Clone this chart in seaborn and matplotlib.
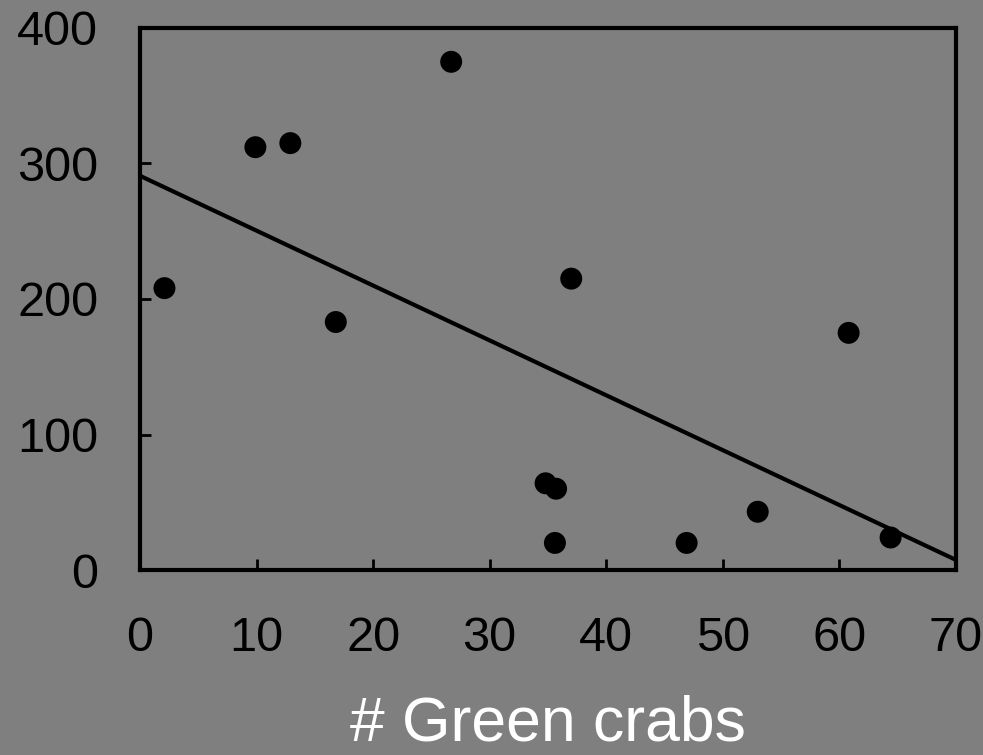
import matplotlib
matplotlib.use("Agg")
import matplotlib.pyplot as plt
import seaborn as sns
import pandas as pd

green_crabs = [2.1, 9.9, 12.9, 16.8, 26.7, 34.8, 35.7, 35.6, 37.0, 46.9, 53.0, 60.8, 64.4]
response = [208, 312, 315, 183, 375, 64, 60, 20, 215, 20, 43, 175, 24]
x_ticks = [0, 10, 20, 30, 40, 50, 60, 70]
y_ticks = [0, 100, 200, 300, 400]

df = pd.DataFrame({"x": green_crabs, "y": response})

sns.set_style("white")
plt.rcParams['font.family'] = ['Liberation Sans', 'DejaVu Sans']

bg = "#7f7f7f"
fig = plt.figure(figsize=(9.83, 7.55), dpi=100, facecolor=bg)
ax = fig.add_axes([0.1424, 0.245, 0.830, 0.718])
ax.set_facecolor(bg)
ax.set_xlim(0, 70)
ax.set_ylim(0, 400)

sns.regplot(data=df, x="x", y="y", ax=ax, ci=None, truncate=False,
            scatter_kws=dict(s=250, color="black", alpha=1, edgecolor="none",
                             zorder=3, clip_on=False),
            line_kws=dict(color="black", lw=3, zorder=2))
ax.set_xlim(0, 70)
ax.set_ylim(0, 400)

ax.set_xticks(x_ticks)
ax.set_yticks(y_ticks)
ax.tick_params(axis="both", direction="in", length=8, width=2, colors="black",
               labelsize=35, labelcolor="black", bottom=True, left=True,
               top=False, right=False)
ax.tick_params(axis="x", pad=33)
ax.tick_params(axis="y", pad=30)
for s in ax.spines.values():
    s.set_color("black")
    s.set_linewidth(3)
    s.set_visible(True)

ax.set_xlabel("# Green crabs", color="white", fontsize=45, labelpad=24)
ax.set_ylabel("")

fig.savefig("out.png", dpi=100, facecolor=bg)
